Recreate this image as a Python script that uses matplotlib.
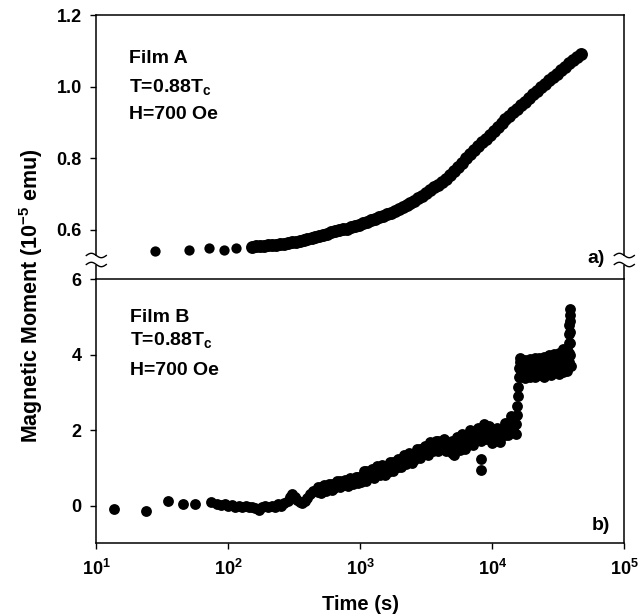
import numpy as np
import matplotlib
matplotlib.use("Agg")
import matplotlib.pyplot as plt
from matplotlib.lines import Line2D
from matplotlib.patches import Rectangle
from matplotlib.ticker import FixedLocator, NullLocator

plt.rcParams["font.family"] = ["Liberation Sans", "DejaVu Sans"]
plt.rcParams["font.weight"] = "bold"
plt.rcParams["mathtext.fontset"] = "custom"
plt.rcParams["mathtext.rm"] = "Liberation Sans:bold"
plt.rcParams["mathtext.bf"] = "Liberation Sans:bold"

# ---- Film A (top panel), time in s, moment in 1e-5 emu
# first few sparse readings
film_a_sparse_time = [27.7, 50.4, 71.0, 92.7, 114]
film_a_sparse_moment = [0.542, 0.544, 0.549, 0.544, 0.549]
# dense part of the curve
film_a_time = [151, 162, 174, 186, 200, 214, 229, 245, 263, 282, 302, 324, 347, 372, 398,
               427, 457, 490, 525, 562, 603, 646, 692, 741, 794, 851, 912, 977, 1047, 1122,
               1202, 1288, 1380, 1479, 1585, 1698, 1820, 1950, 2089, 2239, 2399, 2570, 2754,
               2951, 3162, 3388, 3631, 3890, 4169, 4467, 4786, 5129, 5495, 5888, 6310, 6761,
               7244, 7762, 8318, 8913, 9550, 10233, 10965, 11749, 12589, 13490, 14454, 15488,
               16596, 17783, 19055, 20417, 21878, 23442, 25119, 26915, 28840, 30903, 33113,
               35481, 38019, 40738, 43652, 46774]
film_a_moment = [0.553, 0.554, 0.555, 0.556, 0.557, 0.558, 0.559, 0.561, 0.562, 0.564, 0.565,
                 0.567, 0.568, 0.571, 0.574, 0.577, 0.579, 0.582, 0.586, 0.589, 0.593, 0.596,
                 0.599, 0.602, 0.604, 0.608, 0.611, 0.615, 0.619, 0.623, 0.627, 0.631, 0.635,
                 0.639, 0.644, 0.648, 0.653, 0.658, 0.664, 0.670, 0.676, 0.682, 0.689, 0.696,
                 0.704, 0.711, 0.719, 0.727, 0.735, 0.743, 0.753, 0.765, 0.776, 0.788, 0.800,
                 0.812, 0.823, 0.834, 0.845, 0.855, 0.866, 0.877, 0.887, 0.898, 0.909, 0.919,
                 0.929, 0.939, 0.949, 0.959, 0.969, 0.979, 0.989, 0.999, 1.009, 1.018, 1.028,
                 1.037, 1.047, 1.056, 1.066, 1.075, 1.084, 1.093]

# ---- Film B (bottom panel): early points near zero
film_b_early_time = [13.7, 23.8, 34.9, 45.2, 56, 73.6,
                     82, 88, 94, 100, 106, 113, 120, 127, 135, 143, 151, 160, 170, 180, 190,
                     201, 213, 225, 238, 252, 266, 281, 295, 305, 318, 332, 347, 363, 380, 398,
                     417, 437, 458]
film_b_early_moment = [-0.08, -0.15, 0.11, 0.05, 0.03, 0.09,
                       0.04, 0.01, 0.03, -0.01, 0.02, -0.03, 0.0, -0.04, -0.02, -0.05, -0.03,
                       -0.06, -0.12, -0.04, -0.02, -0.05, 0.0, -0.03, 0.03, 0.0, 0.06, 0.12,
                       0.22, 0.3, 0.24, 0.16, 0.1, 0.08, 0.13, 0.2, 0.32, 0.38, 0.42]

# noisy rise: upper and lower scatter of the band at each time
film_b_rise_time = [480, 503, 527, 552, 578, 606, 635, 665, 697, 730, 765, 801, 839, 879, 921,
                    965, 1011, 1059, 1110, 1163, 1218, 1276, 1337, 1401, 1468, 1538, 1611, 1688,
                    1768, 1853, 1941, 2034, 2131, 2232, 2339, 2450, 2567, 2690, 2818, 2952, 3093,
                    3241, 3396, 3557, 3727, 3905, 4091, 4286, 4491, 4705, 4929, 5164, 5411, 5669,
                    5939, 6223, 6519, 6830, 7156, 7497, 7855, 8230, 8622, 9033, 9464, 9915, 10388,
                    10884, 11403, 11946, 12516, 13113, 13738, 14393]
film_b_rise_upper = [0.50, 0.49, 0.55, 0.50, 0.58, 0.57, 0.55, 0.65, 0.64, 0.62, 0.68, 0.66, 0.72,
                     0.68, 0.77, 0.77, 0.77, 0.92, 0.905, 0.89, 0.98, 0.955, 1.05, 0.975, 1.085,
                     1.06, 1.02, 1.15, 1.145, 1.14, 1.24, 1.235, 1.35, 1.275, 1.395, 1.38, 1.35,
                     1.51, 1.505, 1.49, 1.59, 1.575, 1.68, 1.605, 1.725, 1.70, 1.66, 1.77, 1.685,
                     1.61, 1.70, 1.66, 1.82, 1.72, 1.90, 1.86, 1.80, 2.0, 1.95, 1.93, 2.06, 2.03,
                     2.17, 2.02, 2.12, 2.01, 1.89, 2.07, 2.03, 2.04, 2.18, 2.19, 2.37, 2.27]
film_b_rise_lower = [0.36, 0.34, 0.42, 0.39, 0.44, 0.41, 0.46, 0.53, 0.48, 0.54, 0.54, 0.51, 0.59,
                     0.57, 0.63, 0.61, 0.635, 0.74, 0.665, 0.77, 0.77, 0.73, 0.855, 0.81, 0.875,
                     0.82, 0.885, 0.97, 0.905, 1.02, 1.03, 1.01, 1.155, 1.11, 1.185, 1.14, 1.215,
                     1.33, 1.265, 1.37, 1.38, 1.35, 1.485, 1.44, 1.515, 1.46, 1.525, 1.59, 1.445,
                     1.49, 1.39, 1.33, 1.53, 1.47, 1.59, 1.51, 1.61, 1.74, 1.60, 1.75, 1.75, 1.70,
                     1.88, 1.77, 1.81, 1.66, 1.70, 1.81, 1.68, 1.86, 1.87, 1.86, 2.08, 2.02]

film_b_outlier_time = [8200, 8200]
film_b_outlier_moment = [1.24, 0.95]

# jump near 1.6e4 s
film_b_step_time = [15000, 15150, 15300, 15450, 15600, 15750, 15900, 16050, 16200]
film_b_step_moment = [1.9, 2.15, 2.4, 2.65, 2.9, 3.15, 3.4, 3.65, 3.9]

# plateau after the jump (high / middle / low scatter)
film_b_plat_time = [16200, 16900, 17600, 18400, 19200, 20000, 20900, 21800, 22700, 23700, 24700,
                    25800, 26900, 28000, 29200, 30500, 31800, 33100, 34500, 35900, 37000]
film_b_plat_high = [3.82, 3.78, 3.85, 3.80, 3.88, 3.82, 3.90, 3.86, 3.92, 3.85, 3.95, 3.90, 3.98,
                    3.92, 4.02, 3.95, 4.05, 4.00, 4.15, 4.05, 4.15]
film_b_plat_mid = [3.62, 3.58, 3.65, 3.60, 3.68, 3.62, 3.70, 3.66, 3.72, 3.68, 3.74, 3.70, 3.78,
                   3.72, 3.80, 3.76, 3.82, 3.80, 3.88, 3.84, 3.90]
film_b_plat_low = [3.40, 3.45, 3.38, 3.48, 3.42, 3.50, 3.40, 3.52, 3.45, 3.55, 3.42, 3.50, 3.58,
                   3.45, 3.55, 3.60, 3.50, 3.62, 3.55, 3.60, 3.58]

# final spike near 3.8e4 s
film_b_spike_time = [38000, 38100, 38200, 38300, 38400, 38500, 38600, 38700, 38800, 38900, 39000,
                     39200]
film_b_spike_moment = [3.8, 4.05, 4.3, 4.55, 4.8, 5.05, 5.2, 4.9, 4.6, 4.3, 4.0, 3.7]

x_ticks = [1e1, 1e2, 1e3, 1e4, 1e5]
x_ticklabels = [r"$\mathbf{10^{1}}$", r"$\mathbf{10^{2}}$", r"$\mathbf{10^{3}}$",
                r"$\mathbf{10^{4}}$", r"$\mathbf{10^{5}}$"]
a_yticks = [0.6, 0.8, 1.0, 1.2]
b_yticks = [0, 2, 4, 6]

W, H = 638, 616
fig = plt.figure(figsize=(W / 100, H / 100), dpi=100)


def px(x, y):
    return x / W, (H - y) / H


left, right = 96.3, 624.3
ax_a = fig.add_axes([left / W, (H - 279.3) / H, (right - left) / W, 264 / H])
ax_b = fig.add_axes([left / W, (H - 543.3) / H, (right - left) / W, 264 / H])

dot = dict(linestyle="none", marker="o", color="black", mew=0)
ax_a.plot(film_a_sparse_time, film_a_sparse_moment, ms=7.4, **dot)
ax_a.plot(film_a_time, film_a_moment, ms=9.3, **dot)
for t, m in [(film_b_early_time, film_b_early_moment),
             (film_b_rise_time, film_b_rise_upper),
             (film_b_rise_time, film_b_rise_lower),
             (film_b_outlier_time, film_b_outlier_moment),
             (film_b_step_time, film_b_step_moment),
             (film_b_plat_time, film_b_plat_high),
             (film_b_plat_time, film_b_plat_mid),
             (film_b_plat_time, film_b_plat_low),
             (film_b_spike_time, film_b_spike_moment)]:
    ax_b.plot(t, m, ms=7.8, **dot)

for ax in (ax_a, ax_b):
    ax.set_xscale("log")
    ax.set_xlim(10, 1e5)
    ax.xaxis.set_minor_locator(NullLocator())
    for s in ax.spines.values():
        s.set_linewidth(1.1)
    ax.tick_params(axis="y", direction="out", length=4.5, width=1, pad=6, labelsize=13, right=False)
    ax.tick_params(axis="x", direction="out", length=4.5, width=1, pad=7, labelsize=13, top=False)

ax_a.set_ylim(0.462, 1.2)
ax_a.set_yticks(a_yticks)
ax_a.set_yticklabels([f"{v:.1f}" for v in a_yticks])
ax_a.spines["bottom"].set_visible(False)
ax_a.tick_params(axis="x", bottom=False, labelbottom=False)

ax_b.set_ylim(-1, 6)
ax_b.set_yticks(b_yticks)
ax_b.set_yticklabels([str(v) for v in b_yticks])
ax_b.xaxis.set_major_locator(FixedLocator(x_ticks))
ax_b.set_xticklabels(x_ticklabels)

fs = 14
ax_a.text(0.061, 0.819, "Film A", transform=ax_a.transAxes, fontsize=fs, fontweight="bold", va="baseline")
ax_a.text(0.061, 0.707, r"T=0.88T$_\mathbf{c}$", transform=ax_a.transAxes, fontsize=fs, fontweight="bold", va="baseline")
ax_a.text(0.061, 0.607, "H=700 Oe", transform=ax_a.transAxes, fontsize=fs, fontweight="bold", va="baseline")
ax_a.text(0.963, 0.061, "a)", transform=ax_a.transAxes, fontsize=fs, fontweight="bold", ha="right", va="baseline")

ax_b.text(0.064, 0.839, "Film B", transform=ax_b.transAxes, fontsize=fs, fontweight="bold", va="baseline")
ax_b.text(0.064, 0.750, r"T=0.88T$_\mathbf{c}$", transform=ax_b.transAxes, fontsize=fs, fontweight="bold", va="baseline")
ax_b.text(0.064, 0.6375, "H=700 Oe", transform=ax_b.transAxes, fontsize=fs, fontweight="bold", va="baseline")
ax_b.text(0.973, 0.050, "b)", transform=ax_b.transAxes, fontsize=fs, fontweight="bold", ha="right", va="baseline")

fig.text(*px(360.3, 610), "Time (s)", fontsize=14.5, fontweight="bold", ha="center", va="baseline")
fig.text(*px(31, 296), r"Magnetic Moment (10$^{\mathbf{-5}}$ emu)", fontsize=15.5, fontweight="bold",
         rotation=90, ha="center", va="center")


# axis-break marks on the left and right spines
def break_mark(xc, yc):
    fig.patches.append(Rectangle(px(xc - 3, yc + 4.5), 6 / W, 9 / H, transform=fig.transFigure,
                                 facecolor="white", edgecolor="none", zorder=5))
    u = np.linspace(-10, 10, 40)
    for dy in (-4.5, 4.5):
        xs = (xc + u) / W
        ys = (H - (yc + dy + 2.2 * np.sin(u / 10 * np.pi))) / H
        fig.lines.append(Line2D(xs, ys, transform=fig.transFigure, color="black", lw=1.0, zorder=6))


break_mark(96.3, 260)
break_mark(624.3, 260)

fig.savefig("out.png", dpi=100)
